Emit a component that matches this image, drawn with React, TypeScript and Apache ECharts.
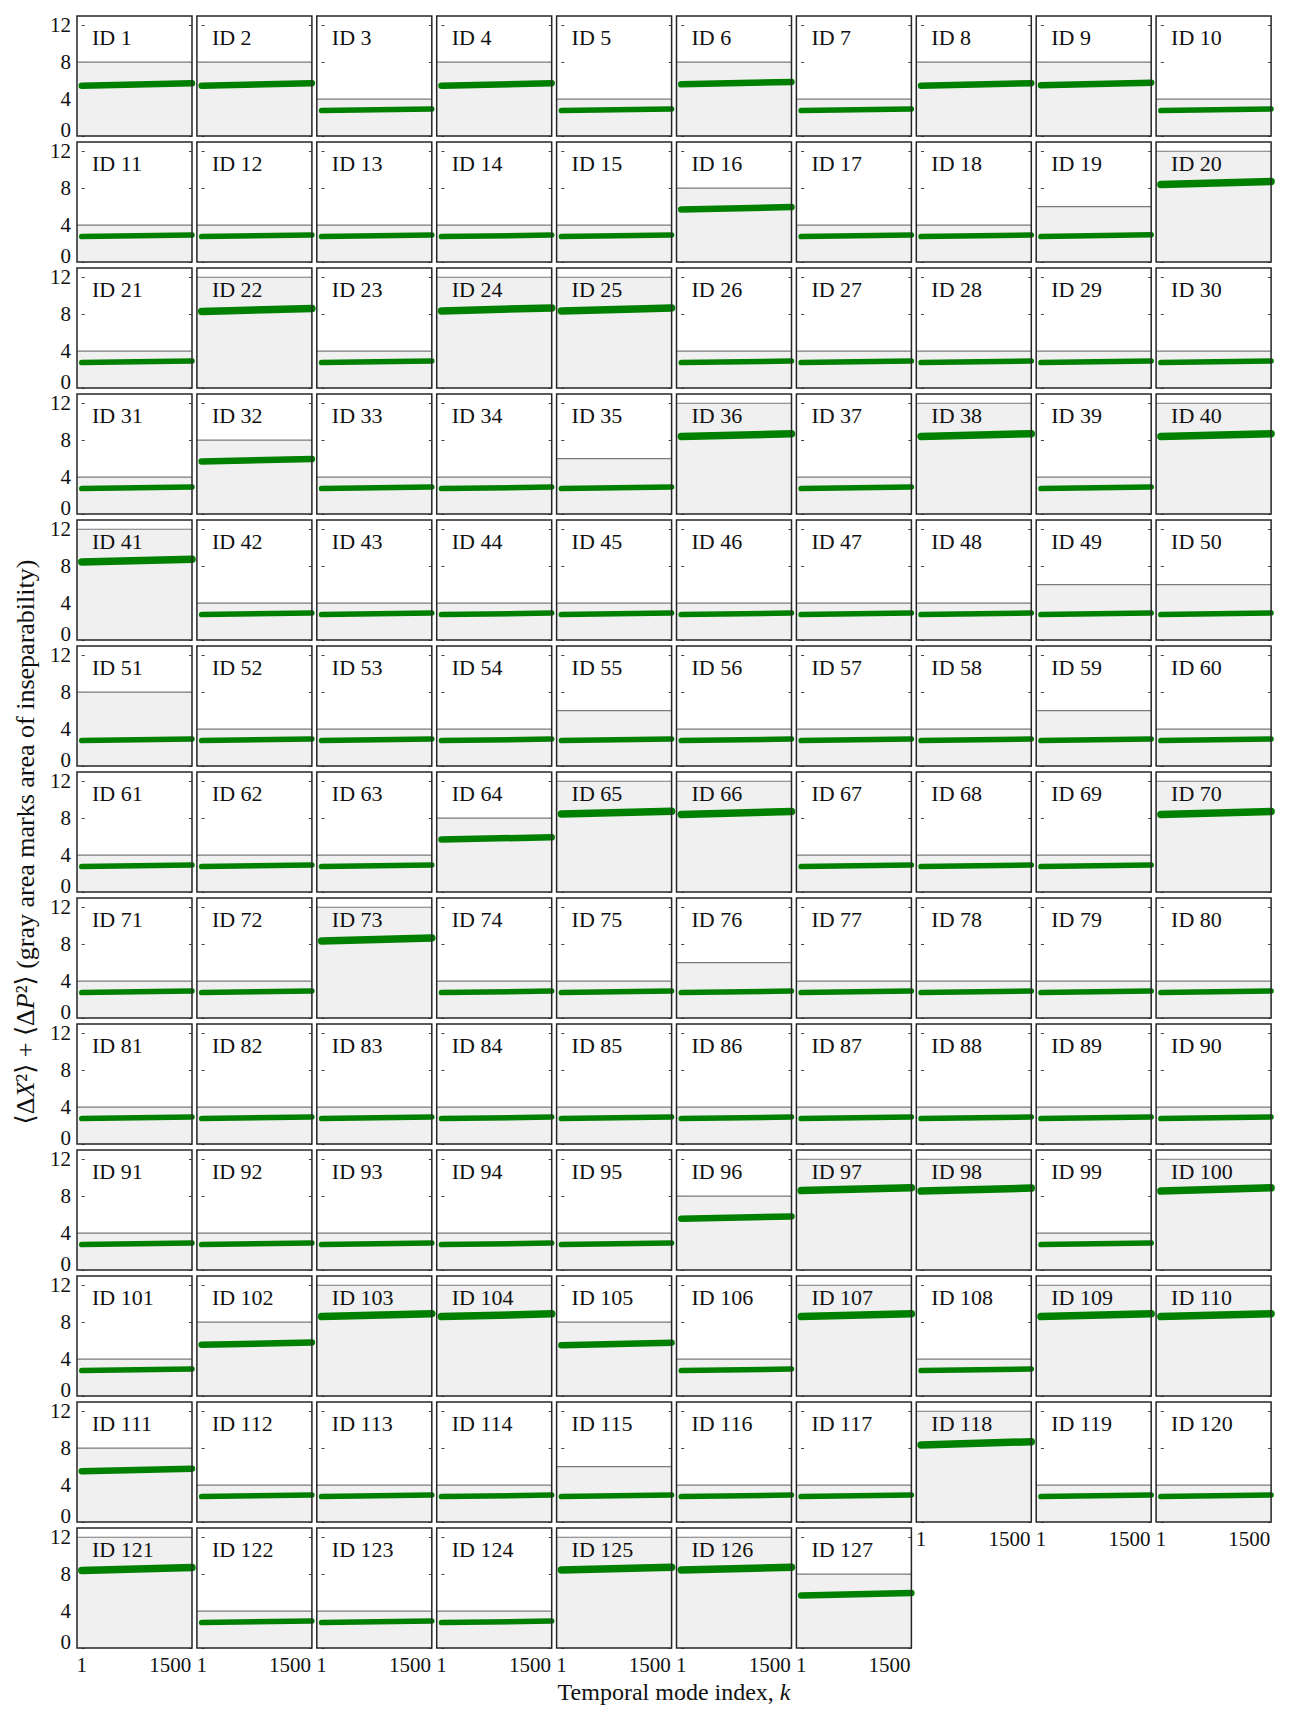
import React, { useEffect, useRef } from "react";
import * as echarts from "echarts";

// ---------- data ----------
// gray-area upper limit (inseparability threshold) per ID 1..127
const thresholds: number[] = [
  8, 8, 4, 8, 4, 8, 4, 8, 8, 4,
  4, 4, 4, 4, 4, 8, 4, 4, 6, 12,
  4, 12, 4, 12, 12, 4, 4, 4, 4, 4,
  4, 8, 4, 4, 6, 12, 4, 12, 4, 12,
  12, 4, 4, 4, 4, 4, 4, 4, 6, 6,
  8, 4, 4, 4, 6, 4, 4, 4, 6, 4,
  4, 4, 4, 8, 12, 12, 4, 4, 4, 12,
  4, 4, 12, 4, 4, 6, 4, 4, 4, 4,
  4, 4, 4, 4, 4, 4, 4, 4, 4, 4,
  4, 4, 4, 4, 4, 8, 12, 12, 4, 12,
  4, 8, 12, 12, 8, 4, 12, 4, 12, 12,
  8, 4, 4, 4, 6, 4, 4, 12, 4, 4,
  12, 4, 4, 4, 12, 12, 8,
];

// value of <dX^2>+<dP^2> at the first temporal mode (k = 1)
const startValues: number[] = [
  5.45, 5.45, 2.75, 5.45, 2.75, 5.6, 2.75, 5.45, 5.5, 2.75,
  2.75, 2.75, 2.75, 2.75, 2.75, 5.7, 2.75, 2.75, 2.75, 8.4,
  2.75, 8.3, 2.75, 8.35, 8.35, 2.75, 2.75, 2.75, 2.75, 2.75,
  2.75, 5.7, 2.75, 2.75, 2.75, 8.4, 2.75, 8.4, 2.75, 8.4,
  8.45, 2.75, 2.75, 2.75, 2.75, 2.75, 2.75, 2.75, 2.75, 2.75,
  2.75, 2.75, 2.75, 2.75, 2.75, 2.75, 2.75, 2.75, 2.75, 2.75,
  2.75, 2.75, 2.75, 5.7, 8.45, 8.4, 2.75, 2.75, 2.75, 8.4,
  2.75, 2.75, 8.35, 2.75, 2.75, 2.75, 2.75, 2.75, 2.75, 2.75,
  2.75, 2.75, 2.75, 2.75, 2.75, 2.75, 2.75, 2.75, 2.75, 2.75,
  2.75, 2.75, 2.75, 2.75, 2.75, 5.55, 8.6, 8.55, 2.75, 8.55,
  2.75, 5.55, 8.6, 8.6, 5.5, 2.75, 8.6, 2.75, 8.6, 8.6,
  5.5, 2.75, 2.75, 2.75, 2.75, 2.75, 2.75, 8.35, 2.75, 2.75,
  8.4, 2.75, 2.75, 2.75, 8.45, 8.45, 5.7,
];

// value at the last temporal mode
const endValues: number[] = [
  5.72, 5.72, 2.92, 5.72, 2.92, 5.85, 2.92, 5.72, 5.78, 2.92,
  2.92, 2.92, 2.92, 2.92, 2.92, 5.95, 2.92, 2.92, 2.95, 8.72,
  2.92, 8.62, 2.92, 8.68, 8.68, 2.92, 2.92, 2.92, 2.92, 2.92,
  2.92, 5.95, 2.92, 2.92, 2.92, 8.7, 2.92, 8.7, 2.92, 8.7,
  8.75, 2.92, 2.92, 2.92, 2.92, 2.92, 2.92, 2.92, 2.92, 2.92,
  2.92, 2.92, 2.92, 2.92, 2.92, 2.92, 2.92, 2.92, 2.92, 2.92,
  2.92, 2.92, 2.92, 5.92, 8.75, 8.72, 2.92, 2.92, 2.92, 8.72,
  2.92, 2.92, 8.68, 2.92, 2.92, 2.92, 2.92, 2.92, 2.92, 2.92,
  2.92, 2.92, 2.92, 2.92, 2.92, 2.92, 2.92, 2.92, 2.92, 2.92,
  2.92, 2.92, 2.92, 2.92, 2.92, 5.8, 8.9, 8.88, 2.92, 8.9,
  2.92, 5.8, 8.92, 8.9, 5.78, 2.92, 8.9, 2.92, 8.9, 8.92,
  5.78, 2.92, 2.92, 2.92, 2.92, 2.92, 2.92, 8.7, 2.92, 2.92,
  8.72, 2.92, 2.92, 2.92, 8.75, 8.75, 5.95,
];

const xTickValues = [1, 1500];
const yTickValues = [0, 4, 8, 12];
const firstMode = 1;
const lastMode = 1870;

// ---------- layout ----------
const COLS = 10;
const X_MIN = -80;
const X_MAX = 1870;
const Y_MIN = 0;
const Y_MAX = 13;
const LEFT0 = 77;
const TOP0 = 16;
const PITCH_X = 119.9;
const PITCH_Y = 126;
const PW = 115;
const PH = 120;
const FONT = "'Liberation Serif', 'DejaVu Serif', serif";

export default function App() {
  const ref = useRef<HTMLDivElement>(null);

  useEffect(() => {
    if (!ref.current) return;
    const chart = echarts.init(ref.current, undefined, { renderer: "svg" });
    const n = thresholds.length;
    const grids: any[] = [];
    const xAxes: any[] = [];
    const yAxes: any[] = [];
    const series: any[] = [];
    const titles: any[] = [];

    for (let i = 0; i < n; i++) {
      const col = i % COLS;
      const row = Math.floor(i / COLS);
      const left = LEFT0 + col * PITCH_X;
      const top = TOP0 + row * PITCH_Y;
      const isBottom = i + COLS >= n;
      grids.push({
        left,
        top,
        width: PW,
        height: PH,
        show: true,
        z: 10,
        backgroundColor: "transparent",
        borderColor: "#262626",
        borderWidth: 1.5,
      });
      xAxes.push({
        gridIndex: i,
        type: "value",
        min: X_MIN,
        max: X_MAX,
        axisLine: { show: false },
        splitLine: { show: false },
        axisTick: { show: false },
        axisLabel: {
          show: isBottom,
          customValues: xTickValues,
          formatter: (v: number) => String(v),
          fontFamily: FONT,
          fontSize: 21,
          color: "#111",
          margin: 6,
        },
      });
      const yBase = {
        gridIndex: i,
        type: "value",
        min: Y_MIN,
        max: Y_MAX,
        axisLine: { show: false },
        splitLine: { show: false },
        axisTick: {
          show: true,
          inside: true,
          length: 3,
          customValues: yTickValues,
          lineStyle: { color: "#444", width: 1 },
        },
      };
      yAxes.push({
        ...yBase,
        position: "left",
        axisLabel: {
          show: col === 0,
          customValues: yTickValues,
          verticalAlignMinLabel: "bottom",
          formatter: (v: number) => (v === Y_MIN ? `{z|${v}}` : `{n|${v}}`),
          rich: {
            z: { fontFamily: FONT, fontSize: 21, color: "#111", lineHeight: 12 },
            n: { fontFamily: FONT, fontSize: 21, color: "#111" },
          },
          margin: 6,
        },
      });
      yAxes.push({ ...yBase, position: "right", axisLabel: { show: false } });

      series.push({
        type: "line",
        xAxisIndex: i,
        yAxisIndex: 2 * i,
        data: [
          [X_MIN, thresholds[i]],
          [X_MAX, thresholds[i]],
        ],
        symbol: "none",
        silent: true,
        z: 1,
        lineStyle: { color: "#7a7a7a", width: 1.2 },
        areaStyle: { color: "#f0f0f0", opacity: 1 },
      });
      const v = startValues[i];
      series.push({
        type: "line",
        xAxisIndex: i,
        yAxisIndex: 2 * i,
        data: [
          [firstMode, startValues[i]],
          [lastMode, endValues[i]],
        ],
        symbol: "none",
        silent: true,
        clip: false,
        z: 3,
        lineStyle: {
          color: "#008000",
          width: v > 7 ? 7.5 : v > 4 ? 6.5 : 5.5,
          cap: "round",
        },
      });
      titles.push({
        text: `ID ${i + 1}`,
        left: left + 15,
        top: top + 10,
        padding: 0,
        textStyle: {
          fontFamily: FONT,
          fontSize: 22,
          fontWeight: "normal",
          color: "#111",
        },
      });
    }

    const gridCenterX = LEFT0 + ((COLS - 1) * PITCH_X + PW) / 2;
    const gridBottom = TOP0 + 12 * PITCH_Y + PH;
    const gridCenterY = (TOP0 + gridBottom) / 2;

    chart.setOption({
      animation: false,
      backgroundColor: "#fff",
      title: titles,
      grid: grids,
      xAxis: xAxes,
      yAxis: yAxes,
      series,
      graphic: [
        {
          type: "text",
          x: gridCenterX,
          y: gridBottom + 44,
          style: {
            text: "Temporal mode index, {i|k}",
            fontFamily: FONT,
            fontSize: 24,
            fill: "#111",
            align: "center",
            verticalAlign: "middle",
            rich: { i: { fontStyle: "italic", fontFamily: FONT, fontSize: 24, fill: "#111" } },
          },
        },
        {
          type: "text",
          x: 25,
          y: gridCenterY + 10,
          rotation: Math.PI / 2,
          style: {
            text: "⟨Δ{i|X}²⟩ + ⟨Δ{i|P}²⟩ (gray area marks area of inseparability)",
            fontFamily: FONT,
            fontSize: 26,
            fill: "#111",
            align: "center",
            verticalAlign: "middle",
            rich: { i: { fontStyle: "italic", fontFamily: FONT, fontSize: 26, fill: "#111" } },
          },
        },
      ],
    });
    return () => chart.dispose();
  }, []);

  return (
    <div
      ref={ref}
      style={{ position: "absolute", left: 0, top: 0, width: 1293, height: 1724 }}
    />
  );
}
